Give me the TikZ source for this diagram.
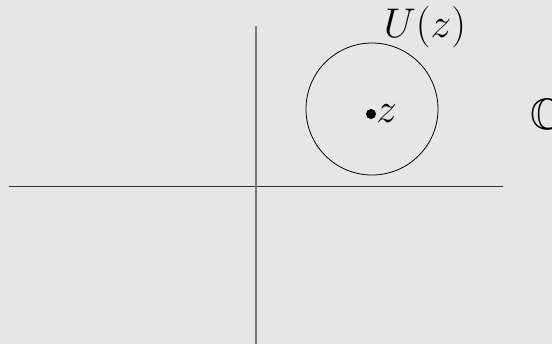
\documentclass[tikz,border=0pt]{standalone}
\usepackage{amssymb}
\usepackage{tikz}
\usetikzlibrary{positioning}
\definecolor{planebg}{HTML}{e6e6e6}
\definecolor{axisgray}{HTML}{7a7a7a}

\begin{document}
\begin{tikzpicture}[x=0.5pt, y=-0.5pt,
    label/.style={inner sep=0pt, font=\fontsize{22}{26}\selectfont}]
  % background
  \fill[planebg] (0,0) rectangle (552,344);
  \useasboundingbox (0,0) rectangle (552,344);

  % axes
  \coordinate (xl) at (9,186);
  \coordinate (xr) at (503,186);
  \coordinate (yt) at (256,26);
  \coordinate (yb) at (256,344);
  \draw[line width=0.5pt, black!80] (xl) -- (xr);
  \draw[line width=1pt, axisgray] (yt) -- (yb);

  % neighbourhood
  \node[circle, draw, line width=0.4pt, minimum size=66pt, inner sep=0pt] (nbhd) at (372,109) {};
  \fill (371,114) circle (2.5pt) coordinate (zpt);
  \node[label, right=2.5pt of zpt] (zlab) {$z$};
  \node[label] (Ulab) at (425,27) {$U(z)$};
  \node[label, anchor=west] (Clab) at (530,114) {$\mathbb{C}$};
\end{tikzpicture}
\end{document}
